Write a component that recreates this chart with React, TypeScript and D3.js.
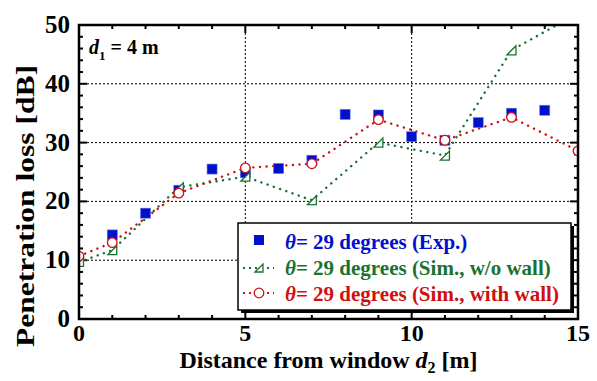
import React from 'react';
import * as d3 from 'd3';

// distance from window [m]
const expDist = [1, 2, 3, 4, 5, 6, 7, 8, 9, 10, 11, 12, 13, 14];
const expLoss = [14.3, 18.0, 21.9, 25.5, 24.9, 25.6, 27.0, 34.8, 34.7, 31.0, 30.4, 33.4, 35.0, 35.5];

const simDist = [0, 1, 3, 5, 7, 9, 11, 13, 15];
const simNoWall = [9.7, 11.7, 22.4, 24.2, 20.2, 30.0, 27.8, 45.7, 52.0];
const simWall = [10.7, 13.0, 21.4, 25.7, 26.4, 33.9, 30.4, 34.3, 28.6];

const xTicks = [0, 5, 10, 15];
const yTicks = [0, 10, 20, 30, 40, 50];

const legendLabels = [
  '= 29 degrees (Exp.)',
  '= 29 degrees (Sim., w/o wall)',
  '= 29 degrees (Sim., with wall)',
];

const BLUE = '#0010cc';
const GREEN = '#1a7232';
const RED = '#d01010';
const FONT = '"Liberation Serif", "Times New Roman", serif';

const W = 597, H = 381;
const margin = { top: 25, right: 19, bottom: 62, left: 79 };
const iw = W - margin.left - margin.right;
const ih = H - margin.top - margin.bottom;

const Triangle = ({ x, y, s = 9, color }: { x: number; y: number; s?: number; color: string }) => (
  <path
    d={`M${x - s / 2},${y + s / 2} L${x + s / 2},${y + s / 2} L${x + s / 2},${y - s / 2} Z`}
    fill="white"
    stroke={color}
    strokeWidth={1.3}
  />
);

export default function App() {
  const x = d3.scaleLinear().domain([0, 15]).range([0, iw]);
  const y = d3.scaleLinear().domain([0, 50]).range([ih, 0]);

  const line = d3
    .line<number>()
    .x((_, i) => x(simDist[i]))
    .y((d) => y(d));

  const xMinor = d3.range(0, 16, 1);
  const yMinor = d3.range(0, 51, 2);

  return (
    <svg width={W} height={H} style={{ position: 'absolute', left: 0, top: 0 }} fontFamily={FONT}>
      <rect width={W} height={H} fill="white" />
      <defs>
        <clipPath id="plot">
          <rect x={0} y={0} width={iw} height={ih} />
        </clipPath>
      </defs>
      <g transform={`translate(${margin.left},${margin.top})`}>
        {/* grid */}
        {[10, 20, 30, 40].map((v) => (
          <line key={'gy' + v} x1={0} x2={iw} y1={y(v)} y2={y(v)} stroke="black" strokeWidth={1} strokeDasharray="2,2" />
        ))}
        {[5, 10].map((v) => (
          <line key={'gx' + v} x1={x(v)} x2={x(v)} y1={0} y2={ih} stroke="black" strokeWidth={1} strokeDasharray="2,2" />
        ))}

        {/* minor/major ticks, inward on all four sides */}
        {yMinor.map((v) => {
          const len = v % 10 === 0 ? 8 : 4;
          return (
            <g key={'ty' + v}>
              <line x1={0} x2={len} y1={y(v)} y2={y(v)} stroke="black" strokeWidth={2} />
              <line x1={iw} x2={iw - len} y1={y(v)} y2={y(v)} stroke="black" strokeWidth={2} />
            </g>
          );
        })}
        {xMinor.map((v) => {
          const len = v % 5 === 0 ? 8 : 4;
          return (
            <g key={'tx' + v}>
              <line x1={x(v)} x2={x(v)} y1={ih} y2={ih - len} stroke="black" strokeWidth={2} />
              <line x1={x(v)} x2={x(v)} y1={0} y2={len} stroke="black" strokeWidth={2} />
            </g>
          );
        })}

        {/* series */}
        <g clipPath="url(#plot)">
          <path d={line(simNoWall) ?? ''} fill="none" stroke={GREEN} strokeWidth={2.4} strokeDasharray="0.1,6.5" strokeLinecap="round" />
          <path d={line(simWall) ?? ''} fill="none" stroke={RED} strokeWidth={2.4} strokeDasharray="0.1,6.5" strokeLinecap="round" />
          {expDist.map((d, i) => (
            <rect key={'e' + d} x={x(d) - 5} y={y(expLoss[i]) - 5} width={10} height={10} fill={BLUE} stroke="#6070e0" strokeWidth={0.6} />
          ))}
          {simDist.map((d, i) => (
            <Triangle key={'n' + d} x={x(d)} y={y(simNoWall[i])} color={GREEN} />
          ))}
          {simDist.map((d, i) => (
            <circle key={'w' + d} cx={x(d)} cy={y(simWall[i])} r={4.8} fill="white" stroke={RED} strokeWidth={1.3} />
          ))}
        </g>

        {/* frame */}
        <rect x={0} y={0} width={iw} height={ih} fill="none" stroke="black" strokeWidth={2.5} />

        {/* tick labels */}
        {yTicks.map((v) => (
          <text key={'ly' + v} x={-9} y={y(v) + 8} textAnchor="end" fontSize={25} fontWeight="bold">
            {v}
          </text>
        ))}
        {xTicks.map((v) => (
          <text key={'lx' + v} x={x(v)} y={ih + 22} textAnchor="middle" fontSize={24} fontWeight="bold">
            {v}
          </text>
        ))}

        {/* d1 annotation */}
        <text x={10} y={29} fontSize={20} fontWeight="bold">
          <tspan fontStyle="italic">d</tspan>
          <tspan fontSize={13} dy={6}>1</tspan>
          <tspan dy={-6}> = 4 m</tspan>
        </text>

        {/* legend */}
        <g transform="translate(159,198)">
          <rect x={3} y={3} width={333} height={87} fill="black" />
          <rect x={0} y={0} width={333} height={87} fill="white" stroke="black" strokeWidth={1.5} />
          <rect x={16} y={12} width={10} height={10} fill={BLUE} />
          <line x1={5} x2={36} y1={45} y2={45} stroke={GREEN} strokeWidth={2} strokeDasharray="2,4" />
          <Triangle x={21} y={45} s={8} color={GREEN} />
          <line x1={5} x2={36} y1={70} y2={70} stroke={RED} strokeWidth={2} strokeDasharray="2,4" />
          <circle cx={21} cy={70} r={4.8} fill="white" stroke={RED} strokeWidth={1.3} />
          {legendLabels.map((t, i) => (
            <text key={t} x={47} y={26 + i * 26} fontSize={21} fontWeight="bold" fill={[BLUE, GREEN, RED][i]}>
              <tspan fontStyle="italic">θ</tspan>
              {t}
            </text>
          ))}
        </g>
      </g>

      {/* axis titles */}
      <text
        transform="translate(34,206) rotate(-90)"
        textAnchor="middle"
        fontSize={25}
        fontWeight="bold"
        textLength={282}
        lengthAdjust="spacingAndGlyphs"
      >
        Penetration loss [dB]
      </text>
      <text x={margin.left + iw / 2} y={368} textAnchor="middle" fontSize={24} fontWeight="bold">
        Distance from window <tspan fontStyle="italic">d</tspan>
        <tspan fontSize={16} dy={5}>2</tspan>
        <tspan dy={-5}> [m]</tspan>
      </text>
    </svg>
  );
}
